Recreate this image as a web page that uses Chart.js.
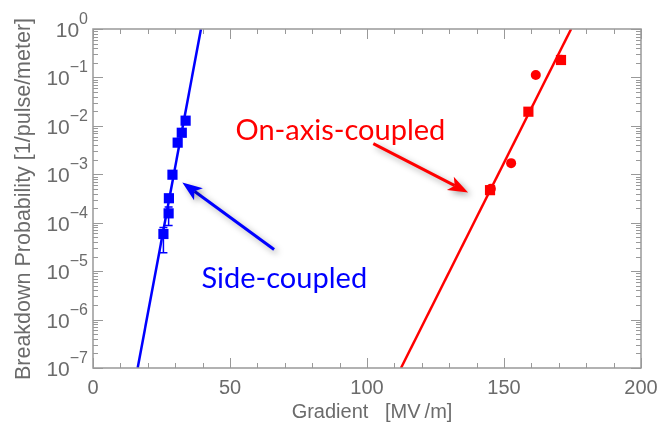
<!DOCTYPE html>
<html>
<head>
<meta charset="utf-8">
<script src="https://cdn.jsdelivr.net/npm/chart.js@4.4.1/dist/chart.umd.min.js"></script>
<style>
	html, body { margin: 0; padding: 0; background: #fff; }
	#wrap { width: 658px; height: 431px; }
</style>
</head>
<body>
<div id="wrap"><canvas id="chart"></canvas></div>
<script>
// side-coupled measurements (gradient MV/m, breakdown prob.)
const sideX = [33.8, 32.4, 30.9, 29.0, 27.7, 27.6, 25.7];
const sideY = [0.0128, 0.0072, 0.0045, 0.00098, 0.00032, 0.000156, 0.0000585];
const sideErrLo = [null, null, null, null, null, 0.000088, 0.000024];
const sideErrHi = [null, null, null, null, null, 0.00021, 0.00008];
const sideFitX = [16.3, 39.4];
const sideFitY = [1e-7, 1];

// on-axis-coupled measurements
const onAxisSqX = [144.9, 158.9, 170.8];
const onAxisSqY = [0.00047, 0.0196, 0.229];
const onAxisDotX = [145.2, 152.6, 161.6, 170.8];
const onAxisDotY = [0.0005, 0.0017, 0.112, 0.232];
const onAxisFitX = [112.4, 174.5];
const onAxisFitY = [1e-7, 1];

const xTicks = [0, 50, 100, 150, 200];
const yExps = [0, -1, -2, -3, -4, -5, -6, -7];

// annotations [x, y] in data units
const sideLabel = { text: 'Side-coupled', at: [69.8, 7.0e-6] };
const onAxisLabel = { text: 'On-axis-coupled', at: [90.3, 8.0e-3] };
const sideArrow = [[66.1, 2.8e-5], [32.6, 6.8e-4]];
const onAxisArrow = [[102.3, 4.3e-3], [136.9, 4.2e-4]];

const BLUE = '#0000ff';
const RED = '#ff0000';
const AXIS = '#999999';
const TXT = '#6b6b6b';

function pts(xs, ys) { return xs.map((x, i) => ({ x, y: ys[i] })); }

function drawArrow(ctx, x0, y0, x1, y1, color) {
	const ang = Math.atan2(y1 - y0, x1 - x0);
	const hl = 20, hw = 7.5;
	ctx.save();
	ctx.shadowColor = 'rgba(0,0,0,0.35)';
	ctx.shadowBlur = 6;
	ctx.shadowOffsetX = 3;
	ctx.shadowOffsetY = 3;
	ctx.strokeStyle = color;
	ctx.fillStyle = color;
	ctx.lineWidth = 3;
	const bx = x1 - Math.cos(ang) * (hl - 5), by = y1 - Math.sin(ang) * (hl - 5);
	ctx.beginPath();
	ctx.moveTo(x0, y0);
	ctx.lineTo(bx, by);
	ctx.stroke();
	ctx.beginPath();
	ctx.moveTo(x1, y1);
	ctx.lineTo(x1 - Math.cos(ang) * hl + Math.sin(ang) * hw, y1 - Math.sin(ang) * hl - Math.cos(ang) * hw);
	ctx.lineTo(bx, by);
	ctx.lineTo(x1 - Math.cos(ang) * hl - Math.sin(ang) * hw, y1 - Math.sin(ang) * hl + Math.cos(ang) * hw);
	ctx.closePath();
	ctx.fill();
	ctx.restore();
}

const framePlugin = {
	id: 'frame',
	beforeDatasetsDraw(chart) {
		// error bars under the markers
		const { ctx, scales: { x, y } } = chart;
		ctx.save();
		ctx.strokeStyle = BLUE;
		ctx.lineWidth = 1.5;
		sideX.forEach((v, i) => {
			if (sideErrLo[i] == null) return;
			const px = x.getPixelForValue(v);
			const lo = y.getPixelForValue(sideErrLo[i]);
			const hi = y.getPixelForValue(sideErrHi[i]);
			ctx.beginPath();
			ctx.moveTo(px, lo); ctx.lineTo(px, hi);
			ctx.moveTo(px - 4, lo); ctx.lineTo(px + 4, lo);
			ctx.moveTo(px - 4, hi); ctx.lineTo(px + 4, hi);
			ctx.stroke();
		});
		ctx.restore();
	},
	afterDraw(chart) {
		const { ctx, chartArea: a, scales: { x, y } } = chart;
		ctx.save();
		// frame
		ctx.strokeStyle = AXIS;
		ctx.lineWidth = 1.5;
		ctx.strokeRect(a.left, a.top, a.right - a.left, a.bottom - a.top);
		ctx.lineWidth = 1;
		ctx.beginPath();
		for (let v = 0; v <= 200; v += 10) {
			const px = Math.round(x.getPixelForValue(v)) + 0.5;
			const len = v % 50 === 0 ? 10 : 5;
			ctx.moveTo(px, a.bottom); ctx.lineTo(px, a.bottom - len);
			ctx.moveTo(px, a.top); ctx.lineTo(px, a.top + len);
		}
		for (let e = -7; e <= 0; e++) {
			for (let m = 1; m <= 9; m++) {
				const v = m * Math.pow(10, e);
				if (v > 1) break;
				const py = Math.round(y.getPixelForValue(v)) + 0.5;
				const len = m === 1 ? 10 : 5;
				ctx.moveTo(a.left, py); ctx.lineTo(a.left + len, py);
				ctx.moveTo(a.right, py); ctx.lineTo(a.right - len, py);
			}
		}
		ctx.stroke();

		// tick labels
		ctx.fillStyle = TXT;
		ctx.font = '20px "Liberation Sans", Arial, sans-serif';
		ctx.textAlign = 'center';
		ctx.textBaseline = 'alphabetic';
		xTicks.forEach(v => ctx.fillText(String(v), x.getPixelForValue(v), 394));
		yExps.forEach(e => {
			const py = y.getPixelForValue(Math.pow(10, e));
			const exp = e === 0 ? '0' : '\u2212' + (-e);
			ctx.font = '16px "Liberation Sans", Arial, sans-serif';
			const ew = ctx.measureText(exp).width;
			ctx.textAlign = 'left';
			ctx.fillText(exp, 88 - ew, py - 5);
			ctx.font = '21px "Liberation Sans", Arial, sans-serif';
			ctx.textAlign = 'right';
			ctx.fillText('10', 88 - ew, py + 8);
		});

		// axis titles
		ctx.font = '20px "Liberation Sans", Arial, sans-serif';
		ctx.textAlign = 'center';
		ctx.fillText('Gradient \u00a0 [MV\u2009/m]', 372, 418);
		ctx.save();
		ctx.translate(30, 199);
		ctx.rotate(-Math.PI / 2);
		ctx.font = '21.5px "Liberation Sans", Arial, sans-serif';
		ctx.fillText('Breakdown Probability [1/pulse/meter]', 0, 0);
		ctx.restore();

		// annotations
		ctx.font = '29px Lato, "Open Sans", sans-serif';
		ctx.textBaseline = 'middle';
		ctx.fillStyle = RED;
		ctx.fillText(onAxisLabel.text, x.getPixelForValue(onAxisLabel.at[0]), y.getPixelForValue(onAxisLabel.at[1]));
		ctx.fillStyle = BLUE;
		ctx.fillText(sideLabel.text, x.getPixelForValue(sideLabel.at[0]), y.getPixelForValue(sideLabel.at[1]));
		const arr = (p, c) => drawArrow(ctx,
			x.getPixelForValue(p[0][0]), y.getPixelForValue(p[0][1]),
			x.getPixelForValue(p[1][0]), y.getPixelForValue(p[1][1]), c);
		arr(sideArrow, BLUE);
		arr(onAxisArrow, RED);
		ctx.restore();
	}
};

new Chart(document.getElementById('chart'), {
	type: 'scatter',
	data: {
		datasets: [
			{ type: 'line', data: pts(sideFitX, sideFitY), borderColor: BLUE, borderWidth: 2.5, pointRadius: 0, fill: false },
			{ type: 'line', data: pts(onAxisFitX, onAxisFitY), borderColor: RED, borderWidth: 2.5, pointRadius: 0, fill: false },
			{ data: pts(sideX, sideY), pointStyle: 'rect', pointRadius: 7.2, backgroundColor: BLUE, borderColor: BLUE, borderWidth: 0 },
			{ data: pts(onAxisSqX, onAxisSqY), pointStyle: 'rect', pointRadius: 7.2, backgroundColor: RED, borderColor: RED, borderWidth: 0 },
			{ data: pts(onAxisDotX, onAxisDotY), pointStyle: 'circle', pointRadius: 5, backgroundColor: RED, borderColor: RED, borderWidth: 0 }
		]
	},
	options: {
		responsive: true,
		maintainAspectRatio: false,
		animation: false,
		layout: { padding: { left: 93, top: 29, right: 17, bottom: 63 } },
		plugins: { legend: { display: false }, tooltip: { enabled: false } },
		scales: {
			x: { type: 'linear', min: 0, max: 200, display: false },
			y: { type: 'logarithmic', min: 1e-7, max: 1, display: false }
		}
	},
	plugins: [framePlugin]
});
</script>
</body>
</html>
